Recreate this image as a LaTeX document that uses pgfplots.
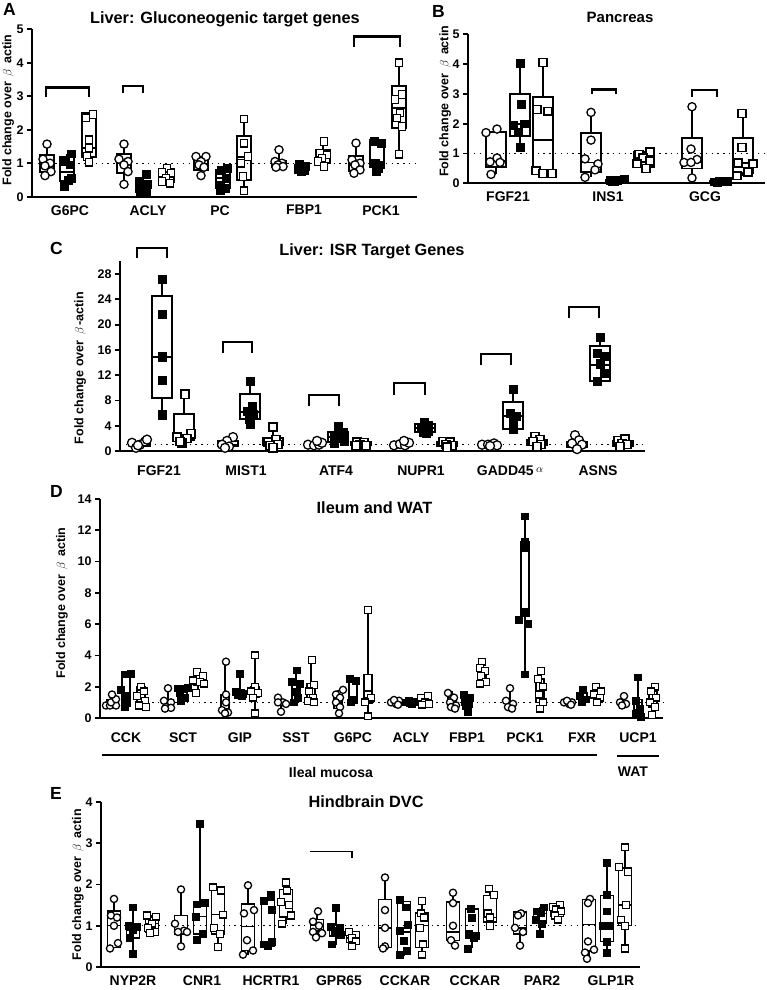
\documentclass[border=0pt]{standalone}
\usepackage{fontspec}
\setmainfont{Liberation Sans}
\usepackage{pgfplots}
\pgfplotsset{compat=1.18}
\usepgfplotslibrary{statistics}
\pgfplotsset{
 panel/.style={scale only axis, axis x line*=bottom, axis y line*=left,
   axis line style={line width=1.8pt, black}, ytick style={line width=1.8pt, black},
   xtick style={draw=none}, tick align=outside, major tick length=5pt,
   /pgf/number format/assume math mode=true,
   yticklabel style={font=\fontsize{12.5}{12.5}\selectfont\bfseries},
   xticklabel style={font=\fontsize{14}{14}\selectfont\bfseries},
   ylabel style={font=\fontsize{12.5}{12.5}\selectfont\bfseries, anchor=center},
   every axis title shift=0pt,
   title style={font=\fontsize{16.3}{16.3}\selectfont\bfseries, anchor=base},
   clip=false, boxplot/draw direction=y, boxplot/whisker extend=0, ymin=0,
   x filter/.expression={x/100},
   ylabel={Fold change over\, $\beta$\, actin}},
 oc/.style={only marks, mark=*, mark size=#1, mark options={solid, fill=white, draw=black, line width=1.3pt}},
 fs/.style={only marks, mark=square*, mark size=#1, mark options={solid, fill=black, draw=black, line width=0.6pt}},
 os/.style={only marks, mark=square*, mark size=#1, mark options={solid, fill=white, draw=black, line width=1.3pt}},
 brk/.style={black, line width=2.2pt, no marks, solid},
 dot/.style={black, line width=1.4pt, dash pattern=on 1.4pt off 4.4pt, no marks},
}
\newcommand\BX[6]{\pgfmathsetmacro\bxdp{#1/100}\edef\bxtmp{\noexpand\addplot[bxs, boxplot prepared={draw position=\bxdp, lower whisker=#2, lower quartile=#3, median=#4, upper quartile=#5, upper whisker=#6}] coordinates {};}\bxtmp}
\begin{document}
\begin{tikzpicture}
\useasboundingbox (0,0) rectangle (767pt,-990pt);
\tikzset{plab/.style={anchor=north west, inner sep=0pt, font=\fontsize{17.5}{17.5}\selectfont\bfseries}}
\node[plab] at (3pt,-3pt) {A};
\node[plab] at (432pt,-5pt) {B};
\node[plab] at (50pt,-242pt) {C};
\node[plab] at (50pt,-485pt) {D};
\node[plab] at (50pt,-787pt) {E};

% ---------------- A ----------------
\begin{axis}[panel, at={(32pt,-196.7pt)}, anchor=south west, width=385pt, height=167.5pt,
  xmin=0.32, xmax=4.17, ymax=5, ytick={0,1,2,3,4,5},
  xtick={0.70,1.48,2.20,3.04,3.81}, xticklabels={G6PC,ACLY,PC,FBP1,PCK1},
  ylabel style={at={(axis description cs:-0.062,0.518)}},
  title={Liver: Gluconeogenic target genes}, title style={at={(axis description cs:0.501,1)}, yshift=6.2pt},
  bxs/.style={black, line width=2pt, solid}, boxplot/box extend=0.14]
\addplot[dot] coordinates {(32,1)(417,1)};
\BX{47}{0.63}{0.75}{1.0}{1.25}{1.57}
\BX{67}{0.32}{0.48}{0.75}{1.2}{1.28}
\BX{89}{1.03}{1.2}{1.45}{2.5}{2.5}
\BX{124}{0.37}{0.7}{1.0}{1.27}{1.57}
\BX{143}{0.12}{0.15}{0.3}{0.45}{0.68}
\BX{167}{0.4}{0.45}{0.62}{0.82}{0.85}
\BX{201}{0.63}{0.8}{0.98}{1.2}{1.2}
\BX{223}{0.18}{0.25}{0.55}{0.8}{0.85}
\BX{244}{0.18}{0.5}{1.2}{1.8}{2.32}
\BX{279}{0.85}{0.88}{0.98}{1.08}{1.4}
\BX{302}{0.75}{0.8}{0.88}{0.95}{0.97}
\BX{323}{0.9}{1.0}{1.2}{1.4}{1.65}
\BX{356}{0.7}{0.78}{0.95}{1.22}{1.6}
\BX{377}{0.75}{0.9}{1.0}{1.68}{1.68}
\BX{399}{1.27}{2.05}{2.65}{3.3}{4.0}
\addplot[oc=4.1] coordinates {(47,1.57)(43,1.12)(50,1.0)(45,0.92)(51,0.75)(45,0.63)
 (124,1.57)(119,1.12)(128,1.05)(124,0.95)(128,0.75)(124,0.37)
 (196,1.2)(206,1.2)(201,1.05)(199,0.95)(204,0.88)(201,0.63)
 (279,1.4)(275,1.05)(282,1.0)(278,0.95)(283,0.9)(276,0.88)
 (356,1.6)(352,1.1)(360,1.0)(355,0.95)(360,0.8)(354,0.7)};
\addplot[fs=3.9] coordinates {(71,1.28)(65,1.05)(70,0.95)(71,0.55)(68,0.48)(64,0.32)
 (146,0.68)(139,0.45)(147,0.38)(141,0.25)(146,0.15)(140,0.12)
 (227,0.85)(221,0.78)(226,0.55)(220,0.35)(225,0.25)(220,0.18)
 (299,0.97)(305,0.92)(302,0.88)(298,0.82)(304,0.78)(301,0.75)
 (374,1.65)(381,1.6)(375,1.0)(380,0.95)(378,0.85)(376,0.75)};
\addplot[os=3.8] coordinates {(93,2.45)(86,2.35)(89,1.7)(89,1.45)(87,1.2)(89,1.03)
 (167,0.85)(162,0.72)(171,0.7)(166,0.55)(162,0.45)(170,0.4)
 (244,2.32)(244,1.6)(248,1.2)(241,1.0)(243,0.6)(244,0.18)
 (324,1.65)(320,1.3)(327,1.25)(322,1.15)(318,1.05)(324,0.9)
 (399,4.0)(402,3.05)(395,2.9)(400,2.5)(397,2.35)(402,2.1)(399,1.27)};
\addplot[brk] coordinates {(46,2.99)(46,3.26)(89,3.26)(89,2.99)};
\addplot[brk] coordinates {(123,3.09)(123,3.31)(143,3.31)(143,3.09)};
\addplot[brk] coordinates {(354,4.48)(354,4.78)(400,4.78)(400,4.48)};
\end{axis}

% ---------------- B ----------------
\begin{axis}[panel, at={(468pt,-183.3pt)}, anchor=south west, width=297pt, height=149pt,
  xmin=4.68, xmax=7.65, ymax=5, ytick={0,1,2,3,4,5},
  xtick={5.08,6.08,7.05}, xticklabels={FGF21,INS1,GCG},
  ylabel style={at={(axis description cs:-0.077,0.55)}},
  title={Pancreas}, title style={at={(axis description cs:0.512,1)}, yshift=11.6pt, font=\fontsize{15}{15}\selectfont\bfseries},
  bxs/.style={black, line width=1.8pt, solid}, boxplot/box extend=0.20]
\addplot[dot] coordinates {(468,1)(765,1)};
\BX{496}{0.3}{0.56}{0.75}{1.73}{1.82}
\BX{520}{1.22}{1.59}{2.0}{2.99}{4.02}
\BX{543}{0.33}{0.41}{1.45}{2.89}{4.05}
\BX{591}{0.2}{0.39}{0.7}{1.7}{2.38}
\BX{616}{0.05}{0.07}{0.09}{0.12}{0.15}
\BX{644}{0.5}{0.55}{0.84}{1.06}{1.06}
\BX{692}{0.18}{0.5}{0.7}{1.51}{2.57}
\BX{720}{0.03}{0.04}{0.05}{0.07}{0.08}
\BX{743}{0.25}{0.34}{0.67}{1.51}{2.35}
\addplot[oc=4.1] coordinates {(497,1.82)(486,1.7)(497,0.85)(490,0.72)(500,0.7)(491,0.3)
 (591,2.38)(591,1.45)(585,0.82)(598,0.65)(595,0.45)(585,0.2)
 (692,2.57)(691,1.15)(697,0.8)(684,0.7)(691,0.7)(692,0.18)};
\addplot[fs=3.9] coordinates {(520,4.02)(521,2.65)(524,2.0)(513,1.95)(518,1.72)(520,1.22)
 (610,0.1)(614,0.08)(617,0.09)(620,0.12)(624,0.13)(612,0.07)
 (714,0.05)(719,0.06)(723,0.05)(727,0.07)(717,0.04)};
\addplot[os=3.9] coordinates {(543,4.05)(537,2.48)(548,2.42)(536,0.42)(543,0.33)(552,0.33)
 (650,1.05)(639,0.98)(643,0.85)(650,0.75)(637,0.65)(646,0.5)
 (742,2.35)(742,1.2)(738,0.68)(753,0.65)(748,0.38)(737,0.25)};
\addplot[brk] coordinates {(592,2.99)(592,3.15)(616,3.15)(616,2.99)};
\addplot[brk] coordinates {(692,2.9)(692,3.13)(717,3.13)(717,2.9)};
\end{axis}

% ---------------- C ----------------
\begin{axis}[panel, at={(120pt,-451pt)}, anchor=south west, width=525pt, height=189.6pt,
  xmin=1.20, xmax=6.45, ymax=30, ytick={0,4,...,28},
  xtick={1.59,2.46,3.36,4.21,5.10,5.98}, xticklabels={FGF21,MIST1,ATF4,NUPR1,{GADD45\,\raisebox{2.5pt}{\fontsize{11}{11}\selectfont$\alpha$}},ASNS},
  xticklabel style={yshift=-6pt},
  ylabel={Fold change over\, $\beta$\,-actin},
  ylabel style={at={(axis description cs:-0.076,0.437)}},
  title={Liver: ISR Target Genes}, title style={at={(axis description cs:0.48,1)}, yshift=6.4pt},
  bxs/.style={black, line width=2pt, solid}, boxplot/box extend=0.20]
\addplot[dot] coordinates {(120,1)(645,1)};
\BX{140}{0.4}{0.8}{1.0}{1.5}{1.8}
\BX{162}{5.7}{8.4}{14.9}{24.5}{27.2}
\BX{184}{1.3}{1.7}{2.5}{5.8}{9.0}
\BX{228}{0.5}{0.8}{1.0}{1.6}{2.2}
\BX{250}{4.2}{5.0}{6.2}{9.0}{11.0}
\BX{273}{0.5}{0.9}{1.4}{2.0}{3.8}
\BX{315}{0.8}{0.9}{1.0}{1.3}{1.6}
\BX{338}{1.2}{1.5}{2.2}{3.0}{3.8}
\BX{361}{0.8}{0.9}{1.1}{1.4}{1.6}
\BX{402}{0.8}{0.9}{1.0}{1.2}{1.6}
\BX{425}{2.8}{3.0}{3.6}{4.2}{4.5}
\BX{447}{0.6}{0.8}{1.1}{1.4}{1.6}
\BX{489}{0.8}{0.85}{1.0}{1.1}{1.2}
\BX{513}{3.5}{3.5}{5.5}{7.8}{9.8}
\BX{537}{0.7}{0.9}{1.2}{1.8}{2.3}
\BX{577}{0.3}{0.6}{1.0}{1.5}{2.5}
\BX{600}{10.5}{11.1}{13.6}{16.6}{18.0}
\BX{623}{0.6}{0.8}{1.2}{1.6}{1.9}
\addplot[oc=4.5] coordinates {(132,1.3)(136,0.5)(140,1.0)(145,1.5)(147,1.8)(138,0.9)
 (233,2.2)(227,1.6)(222,1.0)(229,0.7)(225,0.5)
 (308,1.0)(314,0.9)(319,1.0)(322,1.3)(317,1.6)
 (394,0.9)(400,1.1)(405,0.9)(409,1.3)(404,1.6)
 (482,1.0)(488,1.0)(494,1.2)(497,0.9)(490,0.8)
 (575,2.5)(579,1.7)(572,1.2)(582,1.0)(577,0.3)};
\addplot[fs=4.2] coordinates {(162,27.2)(162,21.6)(162,14.9)(162,11.2)(162,5.7)
 (250,11.0)(252,7.0)(247,6.3)(253,5.8)(249,5.0)(250,4.2)
 (338,3.8)(343,3.0)(334,2.5)(340,2.0)(344,1.5)(334,1.2)
 (424,4.5)(428,4.0)(421,3.6)(428,3.2)(423,3.0)(426,2.8)
 (513,9.8)(510,6.0)(516,5.5)(513,4.5)(513,3.5)
 (600,18.0)(597,15.5)(604,15.0)(600,13.8)(604,12.3)(597,11.0)};
\addplot[os=4.1] coordinates {(185,9.0)(191,2.7)(177,2.2)(187,2.0)(182,1.3)(180,1.5)
 (273,3.8)(276,1.8)(268,1.4)(278,1.0)(270,0.9)(273,0.5)
 (357,1.4)(364,1.3)(360,1.0)(366,0.9)(356,0.8)
 (443,1.5)(450,1.4)(446,1.0)(452,0.9)(447,0.6)
 (535,2.3)(540,1.8)(533,1.5)(541,1.0)(537,0.7)
 (618,1.6)(625,1.9)(622,1.2)(627,1.0)(620,0.7)};
\addplot[brk] coordinates {(137,30.5)(137,32.1)(167,32.1)(167,30.5)};
\addplot[brk] coordinates {(223,15.5)(223,17.2)(252,17.2)(252,15.5)};
\addplot[brk] coordinates {(309,7.2)(309,8.8)(339,8.8)(339,7.2)};
\addplot[brk] coordinates {(394,8.9)(394,10.8)(425,10.8)(425,8.9)};
\addplot[brk] coordinates {(481,13.6)(481,15.3)(511,15.3)(511,13.6)};
\addplot[brk] coordinates {(569,21.1)(569,22.8)(599,22.8)(599,21.1)};
\end{axis}

% ---------------- D ----------------
\begin{axis}[panel, at={(100pt,-718pt)}, anchor=south west, width=563pt, height=219pt,
  xmin=1.00, xmax=6.63, ymax=14, ytick={0,2,...,14},
  xtick={1.26,1.83,2.40,2.96,3.53,4.11,4.67,5.25,5.82,6.38}, xticklabels={CCK,SCT,GIP,SST,G6PC,ACLY,FBP1,PCK1,FXR,UCP1},
  xticklabel style={yshift=-6pt},
  ylabel style={at={(axis description cs:-0.0675,0.525)}},
  title={Ileum and WAT}, title style={at={(axis description cs:0.4876,1)}, yshift=-14pt},
  bxs/.style={black, line width=1.4pt, solid}, boxplot/box extend=0.08]
\addplot[dot] coordinates {(100,1)(663,1)};
\BX{111}{0.8}{0.8}{1.0}{1.2}{1.5}
\BX{126}{0.7}{0.75}{1.4}{2.77}{2.85}
\BX{141}{0.7}{0.75}{1.3}{2.0}{2.0}
\BX{168}{0.6}{0.65}{0.8}{1.0}{1.9}
\BX{183}{1.1}{1.3}{1.8}{1.9}{1.95}
\BX{198}{1.6}{2.1}{2.4}{2.8}{2.95}
\BX{225}{0.3}{0.35}{0.6}{1.5}{3.6}
\BX{240}{1.4}{1.45}{1.6}{1.8}{2.85}
\BX{255}{0.3}{1.3}{1.6}{2.0}{4.0}
\BX{281}{0.4}{0.8}{1.0}{1.2}{1.35}
\BX{296}{1.0}{1.2}{1.8}{2.4}{3.05}
\BX{311}{1.0}{1.0}{1.5}{2.2}{3.7}
\BX{338}{0.3}{0.6}{1.0}{1.5}{1.8}
\BX{353}{0.95}{0.95}{2.3}{2.55}{2.55}
\BX{368}{0.1}{0.96}{1.3}{2.77}{6.9}
\BX{395}{0.85}{0.9}{1.0}{1.1}{1.2}
\BX{410}{0.85}{0.9}{1.0}{1.1}{1.15}
\BX{425}{0.8}{0.9}{1.05}{1.3}{1.4}
\BX{452}{0.6}{0.7}{0.9}{1.3}{1.7}
\BX{467}{0.4}{0.8}{1.0}{1.3}{1.6}
\BX{482}{2.2}{2.3}{2.7}{3.2}{3.6}
\BX{510}{0.5}{0.7}{0.85}{1.0}{1.9}
\BX{525}{2.8}{6.5}{6.8}{11.3}{12.9}
\BX{540}{0.6}{1.0}{1.6}{2.5}{3.0}
\BX{568}{0.85}{0.9}{1.0}{1.05}{1.1}
\BX{583}{1.0}{1.1}{1.3}{1.6}{1.8}
\BX{598}{1.0}{1.0}{1.4}{1.7}{2.0}
\BX{623}{0.7}{0.8}{0.9}{1.0}{1.4}
\BX{638}{0.1}{0.1}{0.5}{1.2}{2.6}
\BX{653}{0.2}{0.7}{1.2}{1.7}{2.0}
\addplot[oc=3.6] coordinates {(106,0.8)(110,0.8)(116,0.8)(111,1.0)(116,1.2)(112,1.5)
 (168,1.9)(164,1.1)(171,1.0)(166,0.7)(171,0.65)(165,0.6)
 (226,3.6)(226,1.5)(226,1.0)(222,0.5)(228,0.35)(225,0.3)
 (278,1.3)(283,1.0)(278,1.0)(286,0.9)(281,0.4)
 (343,1.8)(336,1.5)(340,1.3)(336,1.0)(340,0.7)(339,0.3)
 (391,1.0)(396,0.9)(399,1.1)(394,1.15)(398,0.85)
 (448,1.6)(454,1.3)(450,1.0)(456,0.8)(451,0.7)(455,0.6)
 (510,1.9)(506,1.1)(513,0.9)(508,0.7)(512,0.6)
 (564,1.0)(569,0.9)(572,1.0)(567,1.1)(571,0.85)
 (624,1.4)(620,1.0)(626,0.9)(622,0.8)};
\addplot[fs=3.4] coordinates {(125,2.8)(131,2.85)(121,1.8)(127,1.4)(126,1.1)(125,0.7)
 (178,1.9)(183,1.85)(188,1.95)(180,1.6)(185,1.3)(181,1.1)
 (240,2.85)(236,1.7)(243,1.55)(238,1.45)(242,1.4)
 (297,3.05)(292,2.3)(300,2.2)(295,1.7)(298,1.3)(294,1.0)
 (350,2.5)(356,2.4)(354,1.2)(351,1.0)
 (406,1.0)(410,0.95)(414,1.05)(409,1.1)(412,0.9)
 (464,1.5)(470,1.3)(465,1.0)(469,0.9)(466,0.8)(468,0.4)
 (525,12.9)(525,11.3)(525,10.9)(525,6.8)(519,6.3)(528,6.0)(525,2.8)
 (583,1.8)(580,1.4)(586,1.2)(582,1.0)
 (638,2.6)(636,1.1)(640,0.6)(636,0.3)(641,0.1)};
\addplot[os=3.4] coordinates {(141,2.0)(144,1.7)(137,1.4)(145,1.1)(139,0.8)(146,0.7)
 (197,2.95)(203,2.7)(193,2.4)(200,2.3)(204,2.2)(196,1.6)
 (255,4.0)(255,2.0)(251,1.7)(258,1.6)(253,1.3)(255,0.3)
 (312,3.7)(314,2.1)(309,1.7)(313,1.3)(308,1.1)(314,1.0)
 (368,6.9)(368,1.5)(371,1.3)(365,1.0)(368,0.1)
 (421,1.3)(428,1.4)(425,1.0)(429,0.9)(422,0.85)
 (482,3.6)(480,3.2)(485,3.0)(481,2.7)(486,2.3)(480,2.2)
 (541,3.0)(538,2.5)(543,2.0)(539,1.5)(543,1.0)(540,0.6)
 (596,2.0)(601,1.7)(594,1.5)(600,1.3)(597,1.0)
 (655,2.0)(651,1.7)(656,1.3)(650,1.0)(655,0.7)(652,0.2)};
\end{axis}
\draw[line width=2.2pt] (102pt,-755pt) -- (597pt,-755pt);
\draw[line width=2.2pt] (617pt,-756pt) -- (659pt,-756pt);
\node[font=\fontsize{14}{14}\selectfont\bfseries] at (331pt,-772pt) {Ileal mucosa};
\node[font=\fontsize{14}{14}\selectfont\bfseries] at (633pt,-772pt) {WAT};

% ---------------- E ----------------
\begin{axis}[panel, at={(101pt,-967pt)}, anchor=south west, width=539pt, height=165pt,
  xmin=1.01, xmax=6.40, ymax=4, ytick={0,1,2,3,4},
  xtick={1.33,2.02,2.71,3.39,4.05,4.75,5.42,6.11}, xticklabels={NYP2R,CNR1,HCRTR1,GPR65,CCKAR,CCKAR,PAR2,GLP1R},
  ylabel style={at={(axis description cs:-0.043,0.5)}},
  title={Hindbrain DVC}, title style={at={(axis description cs:0.4917,1)}, yshift=-5pt},
  bxs/.style={black, line width=1.4pt, solid}, boxplot/box extend=0.13]
\addplot[dot] coordinates {(101,1)(640,1)};
\BX{114}{0.45}{0.48}{1.0}{1.36}{1.65}
\BX{133}{0.33}{0.7}{0.9}{1.0}{1.45}
\BX{152}{0.82}{0.85}{1.05}{1.2}{1.25}
\BX{181}{0.5}{0.8}{0.87}{1.25}{1.88}
\BX{200}{0.66}{0.8}{1.22}{1.57}{3.47}
\BX{218}{0.48}{0.8}{1.27}{1.94}{1.94}
\BX{248}{0.3}{0.4}{0.98}{1.53}{1.98}
\BX{268}{0.48}{0.5}{0.6}{1.62}{1.75}
\BX{286}{1.05}{1.21}{1.55}{1.88}{2.05}
\BX{317}{0.7}{0.87}{1.0}{1.15}{1.35}
\BX{336}{0.53}{0.75}{0.9}{1.0}{1.43}
\BX{353}{0.5}{0.6}{0.7}{0.8}{0.85}
\BX{385}{0.45}{0.48}{0.95}{1.63}{2.17}
\BX{404}{0.28}{0.3}{0.85}{1.59}{1.6}
\BX{422}{0.3}{0.48}{1.0}{1.31}{1.6}
\BX{453}{0.5}{0.65}{0.85}{1.58}{1.8}
\BX{472}{0.45}{0.69}{0.8}{1.41}{1.42}
\BX{490}{1.0}{1.09}{1.2}{1.74}{1.9}
\BX{520}{0.5}{0.8}{0.95}{1.33}{1.33}
\BX{540}{0.8}{1.05}{1.3}{1.38}{1.45}
\BX{557}{1.15}{1.22}{1.35}{1.45}{1.5}
\BX{589}{0.2}{0.39}{1.03}{1.63}{1.65}
\BX{607}{0.35}{0.62}{1.0}{1.74}{2.52}
\BX{625}{0.45}{1.0}{1.5}{2.4}{2.9}
\addplot[oc=3.6] coordinates {(114,1.65)(111,1.25)(117,1.2)(114,1.0)(118,0.58)(110,0.45)
 (181,1.88)(175,1.05)(184,0.88)(178,0.85)(187,0.85)(181,0.5)
 (248,1.98)(244,1.3)(254,1.38)(247,0.65)(253,0.4)(243,0.3)
 (318,1.35)(313,1.1)(319,1.0)(322,0.82)(313,0.85)(316,0.72)
 (385,2.17)(385,1.38)(385,0.95)(385,0.5)(383,0.45)
 (453,1.8)(453,1.55)(453,1.0)(451,0.65)(455,0.52)
 (521,1.3)(518,1.25)(515,0.95)(523,0.85)(520,0.52)
 (590,1.65)(588,1.55)(588,0.62)(594,0.42)(585,0.35)(587,0.2)};
\addplot[fs=3.4] coordinates {(133,1.45)(129,1.0)(137,0.98)(133,0.9)(130,0.7)(133,0.33)
 (200,3.47)(197,1.52)(205,1.55)(196,1.22)(203,0.8)(197,0.66)
 (271,1.75)(264,1.6)(272,1.38)(272,0.62)(264,0.55)(268,0.5)
 (336,1.43)(331,0.98)(340,0.95)(335,0.88)(341,0.78)(332,0.55)
 (400,1.62)(406,1.45)(408,1.03)(400,0.88)(404,0.63)(407,0.4)(400,0.3)
 (471,1.42)(472,1.2)(469,0.8)(476,0.75)(474,0.7)(468,0.45)
 (544,1.45)(537,1.35)(541,1.3)(536,1.15)(542,1.05)(540,0.8)
 (607,2.52)(607,1.75)(607,1.35)(603,1.0)(610,1.0)(607,0.62)(607,0.35)};
\addplot[os=3.4] coordinates {(147,1.25)(156,1.22)(152,1.05)(148,0.95)(155,0.85)(150,0.82)
 (213,1.93)(221,1.85)(223,1.27)(214,0.95)(220,0.8)(218,0.48)
 (286,2.05)(287,1.85)(281,1.58)(289,1.5)(291,1.25)(282,1.05)
 (349,0.85)(356,0.78)(352,0.7)(356,0.62)(352,0.5)
 (422,1.6)(421,1.3)(424,1.2)(420,0.95)(423,0.55)(422,0.3)
 (489,1.9)(494,1.75)(488,1.3)(490,1.2)(490,1.0)
 (553,1.45)(560,1.5)(556,1.4)(561,1.35)(555,1.25)(558,1.15)
 (625,2.9)(619,2.42)(628,2.3)(626,1.5)(621,1.15)(625,1.0)(625,0.45)};
\addplot[black, line width=1.9pt, no marks] coordinates {(310,2.8)(352,2.8)(352,2.64)};
\end{axis}
\end{tikzpicture}
\end{document}
